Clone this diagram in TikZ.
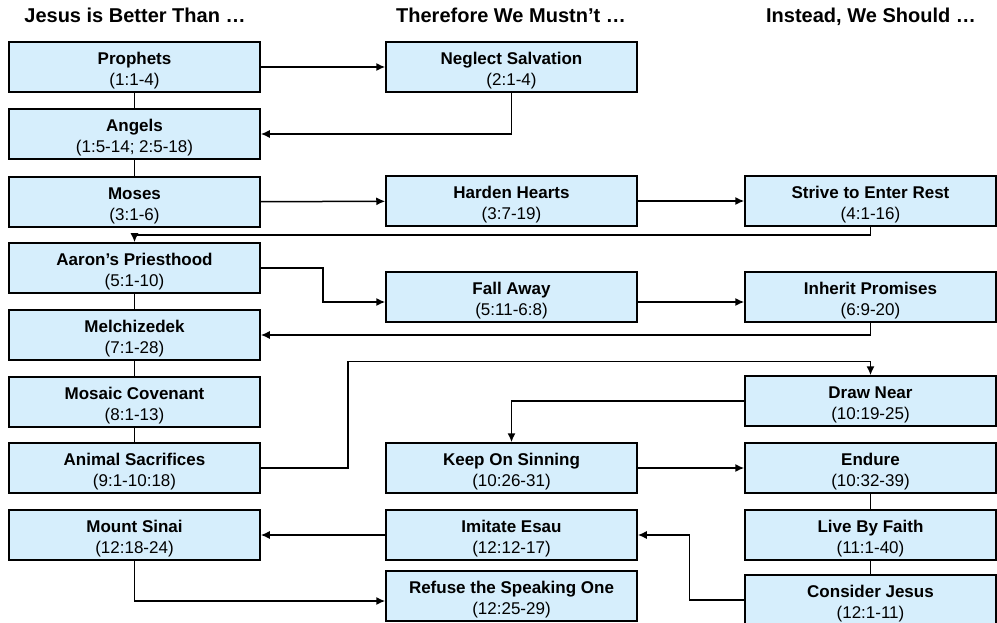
\documentclass[tikz,border=0pt]{standalone}
\usepackage{fontspec}
\setmainfont{Liberation Sans}
\usetikzlibrary{arrows.meta,calc,positioning}
\definecolor{boxblue}{RGB}{214,238,252}
\newcommand{\entry}[2]{\rule{0pt}{19pt}\textbf{#1}\\#2}

\begin{document}
\begin{tikzpicture}[x=1pt,y=-1pt,
		box/.style={draw,line width=1.5pt,fill=boxblue,minimum width=251pt,minimum height=50pt,
			inner sep=0pt,align=center,font=\fontsize{17}{21}\selectfont},
		hdr/.style={anchor=base,font=\fontsize{20}{24}\selectfont\bfseries},
		flow/.style={line width=1.5pt,-{Latex[length=9pt,width=8pt]}},
		tie/.style={line width=1.5pt}
		]
			\useasboundingbox (0,0) rectangle (997,623);
			% headings
			\node[hdr] (h1) at (135,23) {Jesus is Better Than …};
			\node[hdr] (h2) at (511,23) {Therefore We Mustn’t …};
			\node[hdr] (h3) at (871,23) {Instead, We Should …};
			% better than
			\node[box] (prophets) at (134.5,67) {\entry{Prophets}{(1:1-4)}};
			\node[box] (angels) at (134.5,134) {\entry{Angels}{(1:5-14; 2:5-18)}};
			\node[box] (moses) at (134.5,202) {\entry{Moses}{(3:1-6)}};
			\node[box] (aaron) at (134.5,268) {\entry{Aaron’s Priesthood}{(5:1-10)}};
			\node[box] (melch) at (134.5,335) {\entry{Melchizedek}{(7:1-28)}};
			\node[box] (covenant) at (134.5,402) {\entry{Mosaic Covenant}{(8:1-13)}};
			\node[box] (sacrifices) at (134.5,468) {\entry{Animal Sacrifices}{(9:1-10:18)}};
			\node[box] (sinai) at (134.5,535) {\entry{Mount Sinai}{(12:18-24)}};
			% mustn't
			\node[box] (neglect) at (511.5,67) {\entry{Neglect Salvation}{(2:1-4)}};
			\node[box] (harden) at (511.5,201) {\entry{Harden Hearts}{(3:7-19)}};
			\node[box] (fallaway) at (511.5,297) {\entry{Fall Away}{(5:11-6:8)}};
			\node[box] (sinning) at (511.5,468) {\entry{Keep On Sinning}{(10:26-31)}};
			\node[box] (esau) at (511.5,535) {\entry{Imitate Esau}{(12:12-17)}};
			\node[box] (refuse) at (511.5,596) {\entry{Refuse the Speaking One}{(12:25-29)}};
			% should
			\node[box] (strive) at (870.5,201) {\entry{Strive to Enter Rest}{(4:1-16)}};
			\node[box] (inherit) at (870.5,297) {\entry{Inherit Promises}{(6:9-20)}};
			\node[box] (drawnear) at (870.5,401) {\entry{Draw Near}{(10:19-25)}};
			\node[box] (endure) at (870.5,468) {\entry{Endure}{(10:32-39)}};
			\node[box] (faith) at (870.5,535) {\entry{Live By Faith}{(11:1-40)}};
			\node[box] (consider) at (870.5,600) {\entry{Consider Jesus}{(12:1-11)}};
			% plain links
			\draw[tie] (prophets) -- (angels);
			\draw[tie] (angels) -- (moses);
			\draw[tie] (aaron) -- (melch);
			\draw[tie] (melch) -- (covenant);
			\draw[tie] (covenant) -- (sacrifices);
			\draw[tie] (endure) -- (faith);
			\draw[tie] (faith) -- (consider);
			% arrows
			\draw[flow] (prophets) -- (neglect);
			\draw[flow] (neglect.south) |- (angels.east);
			\draw[flow] (moses) -- (harden);
			\draw[flow] (harden) -- (strive);
			\draw[flow] (strive.south) |- ($(moses.south)!0.5!(aaron.north)$) -- (aaron.north);
			\draw[flow] (aaron.east) -- ++(62,0) |- ($(fallaway.west)+(0,5)$);
			\draw[flow] ($(fallaway.east)+(0,5)$) -- ($(inherit.west)+(0,5)$);
			\draw[flow] (inherit.south) |- (melch.east);
			\draw[flow] (sacrifices.east) -- ++(87,0) |- ($(drawnear.north)+(0,-14)$) -- (drawnear.north);
			\draw[flow] (drawnear.west) -| (sinning.north);
			\draw[flow] (sinning) -- (endure);
			\draw[flow] (consider.west) -- ++(-55,0) |- (esau.east);
			\draw[flow] (esau) -- (sinai);
			\draw[flow] (sinai.south) |- ($(refuse.west)+(0,5)$);
		\end{tikzpicture}
\end{document}
